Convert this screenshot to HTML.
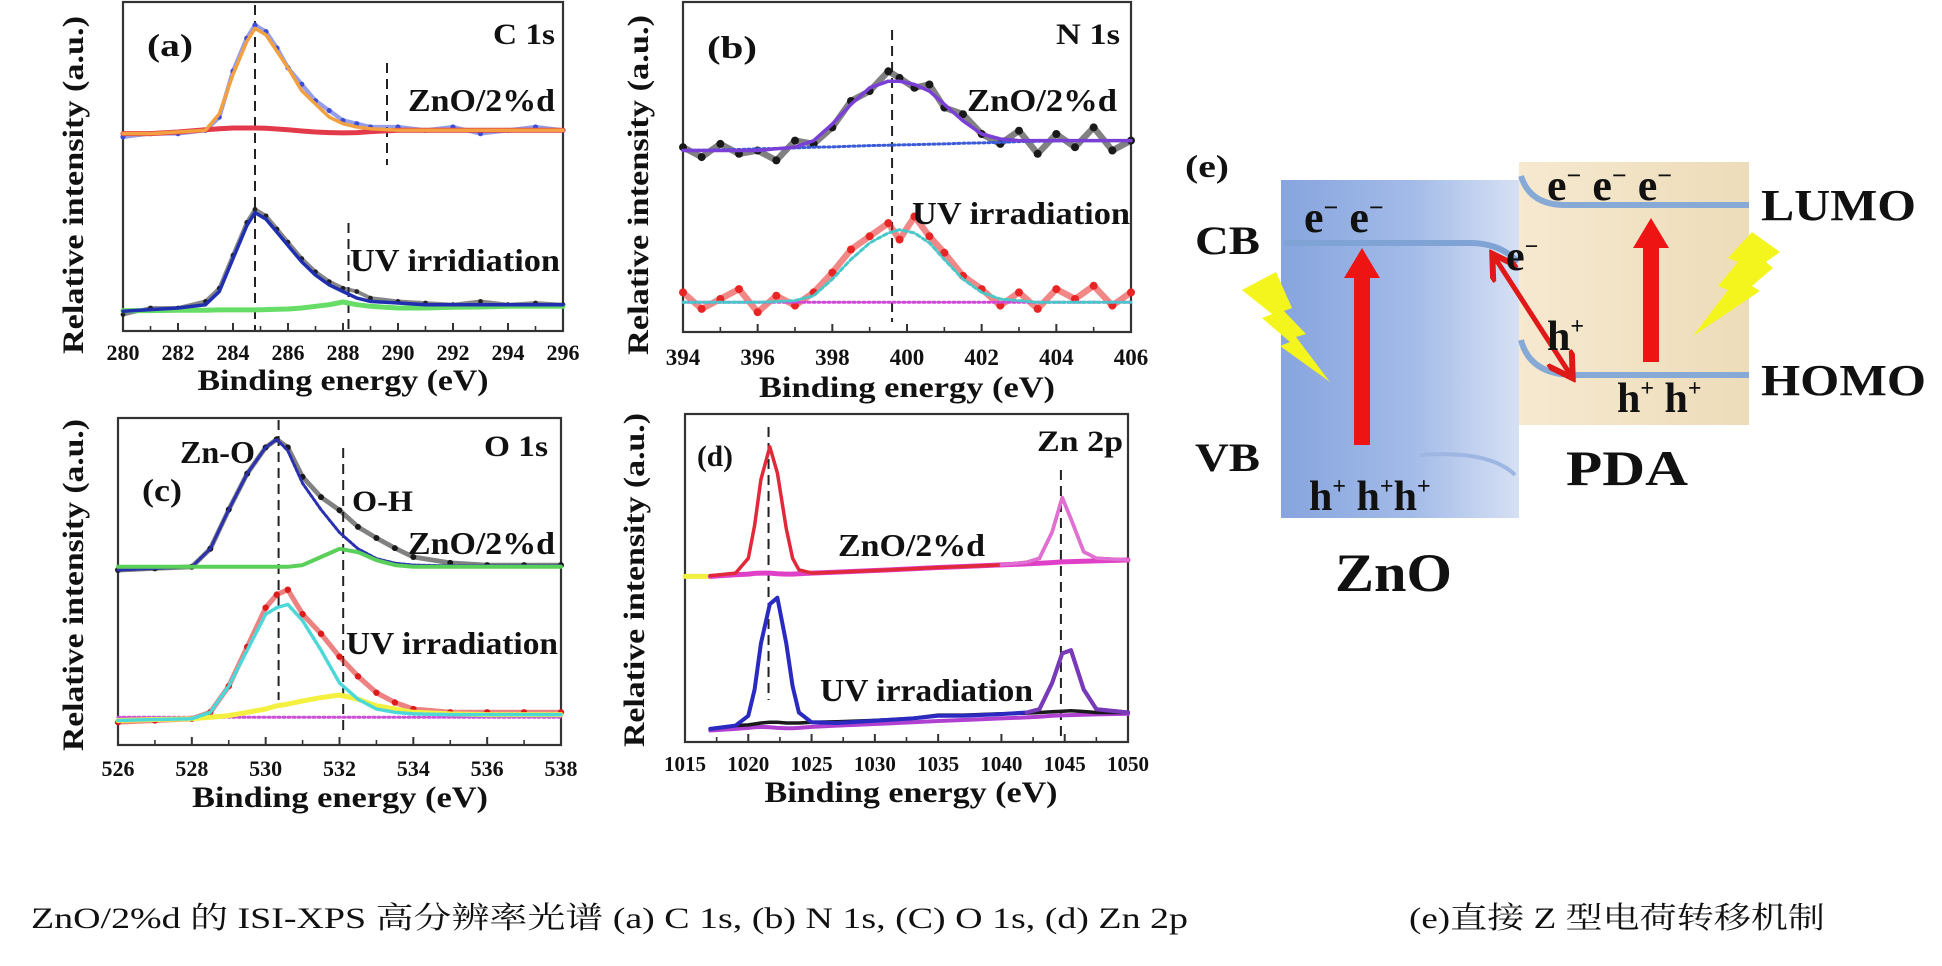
<!DOCTYPE html>
<html><head><meta charset="utf-8"><title>XPS spectra and Z-scheme</title>
<style>
html,body{margin:0;padding:0;background:#fff;}
svg, svg text{font-family:"Liberation Serif","Times New Roman","Noto Serif CJK SC",serif !important;}
</style></head>
<body>
<svg id="fig" width="1942" height="961" viewBox="0 0 1942 961" xmlns="http://www.w3.org/2000/svg" font-family="Liberation Serif, Times New Roman, Noto Serif CJK SC, serif">
<defs>
<linearGradient id="znoGrad" x1="0" x2="1" y1="0" y2="0">
<stop offset="0" stop-color="#86a4de"/><stop offset="0.55" stop-color="#a3bbe8"/><stop offset="1" stop-color="#d6e0f4"/>
</linearGradient>
<linearGradient id="pdaGrad" x1="0" x2="1" y1="0" y2="0">
<stop offset="0" stop-color="#f6e9d0"/><stop offset="1" stop-color="#eddcb9"/>
</linearGradient>
<marker id="redHead" markerWidth="6" markerHeight="6" refX="4" refY="3" orient="auto-start-reverse" markerUnits="strokeWidth"><path d="M0,0 L5,3 L0,6" fill="none" stroke="#e01818" stroke-width="1.2"/></marker>
</defs>
<g id="charts"></g>

<g font-weight="bold" fill="#111">
<rect x="1281" y="180" width="238" height="338" fill="url(#znoGrad)"/>
<rect x="1519" y="162" width="230" height="263" fill="url(#pdaGrad)"/>
<path d="M1284,243 L1470,243 Q1500,243 1518,262" fill="none" stroke="#7ea3d4" stroke-width="6"/>
<path d="M1420,455 Q1490,450 1515,475" fill="none" stroke="#9db6e2" stroke-width="4"/>
<path d="M1521,176 Q1530,205 1565,205 L1749,205" fill="none" stroke="#86a9d6" stroke-width="6"/>
<path d="M1521,340 Q1530,375 1575,375 L1749,375" fill="none" stroke="#86a9d6" stroke-width="6"/>
<polygon points="1242,290 1276,272 1292,308 1284,311 1306,334 1296,337 1330,382 1280,346 1290,342 1262,318 1272,314" fill="#f5f51e"/>
<polygon points="1752,232 1780,252 1766,262 1773,268 1752,286 1760,291 1693,336 1728,290 1718,286 1738,262 1728,258" fill="#f5f51e"/>
<polygon points="1354,445 1370,445 1370,278 1380,278 1362,248 1344,278 1354,278" fill="#ee1414"/>
<polygon points="1643,362 1659,362 1659,248 1669,248 1651,218 1633,248 1643,248" fill="#ee1414"/>
<line x1="1495" y1="258" x2="1570" y2="374" stroke="#e01818" stroke-width="5" marker-start="url(#redHead)" marker-end="url(#redHead)"/>
<text x="1185" y="177" font-size="32" textLength="44" lengthAdjust="spacingAndGlyphs">(e)</text>
<text x="1195" y="254" font-size="40" textLength="65" lengthAdjust="spacingAndGlyphs">CB</text>
<text x="1195" y="471" font-size="40" textLength="65" lengthAdjust="spacingAndGlyphs">VB</text>
<text x="1761" y="220" font-size="44" textLength="155" lengthAdjust="spacingAndGlyphs">LUMO</text>
<text x="1761" y="395" font-size="44" textLength="165" lengthAdjust="spacingAndGlyphs">HOMO</text>
<text x="1335" y="591" font-size="54" textLength="117" lengthAdjust="spacingAndGlyphs">ZnO</text>
<text x="1566" y="485" font-size="50" textLength="122" lengthAdjust="spacingAndGlyphs">PDA</text>
<text x="1304" y="232" font-size="44">e<tspan font-size="26" dy="-16">−</tspan><tspan dy="16"> e</tspan><tspan font-size="26" dy="-16">−</tspan></text>
<text x="1547" y="200" font-size="44">e<tspan font-size="26" dy="-16">−</tspan><tspan dy="16"> e</tspan><tspan font-size="26" dy="-16">−</tspan><tspan dy="16"> e</tspan><tspan font-size="26" dy="-16">−</tspan></text>
<text x="1506" y="270" font-size="42">e<tspan font-size="24" dy="-16">−</tspan></text>
<text x="1547" y="350" font-size="42">h<tspan font-size="24" dy="-16">+</tspan></text>
<text x="1617" y="412" font-size="42">h<tspan font-size="24" dy="-16">+</tspan><tspan dy="16"> h</tspan><tspan font-size="24" dy="-16">+</tspan></text>
<text x="1309" y="510" font-size="42">h<tspan font-size="24" dy="-16">+</tspan><tspan dy="16"> h</tspan><tspan font-size="24" dy="-16">+</tspan><tspan dy="16">h</tspan><tspan font-size="24" dy="-16">+</tspan></text>
</g>

<text x="31" y="928" font-size="30" textLength="1157" lengthAdjust="spacingAndGlyphs" fill="#111">ZnO/2%d 的 ISI-XPS 高分辨率光谱  (a) C 1s, (b) N 1s, (C) O 1s, (d) Zn 2p</text>
<text x="1409" y="928" font-size="30" textLength="416" lengthAdjust="spacingAndGlyphs" fill="#111">(e)直接 Z 型电荷转移机制</text>
</svg>

<script>
const xTicksA = [280,282,284,286,288,290,292,294,296];
const xTicksB = [394,396,398,400,402,404,406];
const xTicksC = [526,528,530,532,534,536,538];
const xTicksD = [1015,1020,1025,1030,1035,1040,1045,1050];

const energyA = [280,281,282,283,283.5,284,284.5,284.8,285.2,285.6,286,286.5,287,287.5,288,288.5,289,290,291,292,293,294,295,296];
const fitA1   = [.60,.60,.605,.61,.66,.78,.88,.92,.90,.85,.80,.73,.69,.65,.63,.62,.615,.61,.61,.61,.61,.61,.61,.61];
const dataA1  = [.59,.60,.60,.61,.65,.79,.89,.93,.91,.86,.80,.75,.70,.67,.64,.63,.62,.62,.61,.62,.60,.61,.62,.61];
const compA1  = [.60,.60,.605,.612,.615,.617,.617,.617,.616,.614,.612,.608,.605,.603,.602,.603,.606,.61,.61,.61,.61,.61,.61,.61];
const fitA2   = [.06,.065,.07,.08,.12,.22,.32,.36,.34,.30,.26,.21,.17,.14,.12,.10,.09,.085,.08,.08,.08,.08,.08,.08];
const dataA2  = [.05,.07,.07,.09,.13,.23,.33,.37,.35,.31,.27,.22,.18,.15,.13,.12,.10,.09,.085,.08,.09,.08,.085,.08];
const compA2  = [.062,.062,.063,.063,.064,.064,.064,.064,.065,.066,.067,.07,.075,.08,.088,.08,.075,.07,.07,.072,.073,.075,.075,.075];
const peaksA  = [284.8, 289.6, 288.2];

const energyB = [394,394.5,395,395.5,396,396.5,397,397.5,398,398.5,399,399.5,399.8,400.2,400.6,401,401.5,402,402.5,403,403.5,404,404.5,405,405.5,406];
const fitB1   = [.55,.55,.55,.55,.55,.555,.56,.58,.63,.69,.74,.76,.76,.75,.73,.69,.64,.60,.585,.58,.58,.58,.58,.58,.58,.58];
const baseB1  = [.55,.551,.552,.553,.555,.556,.558,.56,.561,.563,.565,.566,.567,.568,.569,.57,.572,.573,.575,.577,.578,.579,.58,.58,.58,.58];
const dataB1  = [.56,.53,.57,.54,.55,.52,.58,.57,.62,.70,.73,.79,.77,.74,.75,.68,.66,.60,.57,.61,.54,.60,.56,.62,.55,.58];
const fitB2   = [.09,.09,.09,.09,.09,.092,.095,.11,.16,.22,.27,.30,.31,.30,.27,.22,.16,.12,.10,.095,.09,.09,.09,.09,.09,.09];
const baseB2  = [.09,.09,.09,.09,.09,.09,.09,.09,.09,.09,.09,.09,.09,.09,.09,.09,.09,.09,.09,.09,.09,.09,.09,.09,.09,.09];
const dataB2  = [.12,.07,.10,.13,.06,.11,.08,.12,.18,.25,.29,.33,.28,.35,.29,.24,.17,.13,.08,.12,.07,.13,.10,.14,.08,.12];
const peaksB  = [399.6];

const energyC = [526,527,528,528.5,529,529.5,530,530.3,530.6,531,531.5,532,532.5,533,533.5,534,535,536,537,538];
const dataC1  = [.535,.54,.545,.60,.72,.83,.91,.935,.91,.82,.758,.718,.667,.633,.602,.575,.557,.55,.55,.55];
const znoC1   = [.535,.54,.545,.60,.72,.83,.91,.935,.90,.80,.72,.65,.60,.57,.556,.55,.548,.548,.548,.548];
const ohC1    = [.545,.545,.545,.545,.545,.545,.545,.545,.545,.55,.575,.60,.59,.565,.55,.545,.545,.545,.545,.545];
const dataC2  = [.07,.075,.08,.10,.18,.30,.42,.46,.475,.40,.34,.27,.21,.16,.13,.11,.10,.10,.10,.10];
const znoC2   = [.075,.078,.08,.10,.18,.29,.40,.42,.43,.38,.29,.19,.14,.11,.10,.095,.093,.093,.093,.093];
const ohC2    = [.075,.078,.08,.085,.09,.10,.11,.12,.125,.135,.145,.153,.14,.12,.11,.10,.095,.093,.093,.093];
const baseC2  = [.085,.085,.085,.085,.085,.085,.085,.085,.085,.085,.085,.085,.085,.085,.085,.085,.085,.085,.085,.085];
const peaksC  = [530.35, 532.1];

const energyD = [1017,1019,1020,1020.5,1021,1021.7,1022.3,1023,1023.5,1024,1025,1027,1030,1033,1035,1037,1040,1042,1043,1044,1044.8,1045.5,1046.5,1047.5,1050];
const dataD1  = [.507,.515,.56,.66,.80,.90,.82,.65,.56,.525,.515,.518,.523,.528,.532,.535,.54,.548,.56,.64,.745,.68,.58,.56,.555];
const baseD1  = [.505,.51,.512,.514,.515,.515,.513,.512,.512,.513,.515,.518,.523,.528,.532,.535,.54,.543,.545,.547,.549,.55,.551,.552,.555];
const dataD2  = [.04,.05,.08,.16,.30,.42,.44,.30,.17,.09,.06,.058,.065,.072,.08,.08,.085,.09,.10,.18,.27,.28,.16,.10,.09];
const bumpD2  = [.04,.05,.052,.055,.058,.06,.06,.058,.058,.058,.06,.062,.066,.072,.082,.082,.086,.088,.09,.092,.094,.095,.093,.09,.09];
const baseD2  = [.035,.04,.043,.045,.046,.045,.043,.042,.042,.043,.046,.05,.055,.06,.064,.067,.072,.075,.077,.08,.081,.082,.083,.084,.086];
const peaksD  = [1021.6, 1044.7];

const NS = 'http://www.w3.org/2000/svg';
const root = document.getElementById('charts');

function mk(tag, attrs, parent) {
  const el = document.createElementNS(NS, tag);
  for (const k in attrs) el.setAttribute(k, attrs[k]);
  parent.appendChild(el);
  return el;
}
function xScale(p, v) { return p.x0 + (v - p.d0) / (p.d1 - p.d0) * (p.x1 - p.x0); }
function yScale(p, v) { return p.y1 - v * (p.y1 - p.y0); }

function line(p, xs, ys, color, w, dash, name) {
  const pts = xs.map((x, i) => xScale(p, x).toFixed(1) + ',' + yScale(p, ys[i]).toFixed(1)).join(' ');
  const el = mk('polyline', {points: pts, fill: 'none', stroke: color, 'stroke-width': w, 'stroke-linejoin': 'round', 'stroke-linecap': 'round'}, p.g);
  if (dash) el.setAttribute('stroke-dasharray', dash);
  
  
  return el;
}
function dots(p, xs, ys, color, r, name) {
  const g = mk('g', {fill: color}, p.g);
  
  
  line(p, xs, ys, color, r * 1.6, null, name + '-trace').setAttribute('opacity', '0.55');
  xs.forEach((x, i) => {
    const c = mk('circle', {cx: xScale(p, x), cy: yScale(p, ys[i]), r: r}, g);
    
    
  });
}
function vdash(p, x, ya, yb, name) {
  const el = mk('line', {x1: xScale(p, x), x2: xScale(p, x), y1: ya, y2: yb, stroke: '#222', 'stroke-width': 2, 'stroke-dasharray': '10,6'}, p.g);
  
  
}
function txt(p, s, x, y, size, len, name, anchor) {
  const t = mk('text', {x: x, y: y, 'font-size': size, 'font-weight': 'bold', fill: '#111'}, p.g);
  if (len) { t.setAttribute('textLength', len); t.setAttribute('lengthAdjust', 'spacingAndGlyphs'); }
  if (anchor) t.setAttribute('text-anchor', anchor);
  t.textContent = s;
  
  
  return t;
}

function panel(cfg) {
  const p = Object.assign({}, cfg);
  p.g = mk('g', {}, root);
  
  
  const fr = mk('rect', {x: p.x0, y: p.y0, width: p.x1 - p.x0, height: p.y1 - p.y0, fill: 'none', stroke: '#333', 'stroke-width': 2.2}, p.g);
  
  
  const ticks = cfg.ticks;
  ticks.forEach((t, i) => {
    const x = xScale(p, t);
    const tk = mk('line', {x1: x, x2: x, y1: p.y1, y2: p.y1 - 8, stroke: '#333', 'stroke-width': 2}, p.g);
    
    
    if (i < ticks.length - 1) {
      const xm = xScale(p, (t + ticks[i + 1]) / 2);
      const mt = mk('line', {x1: xm, x2: xm, y1: p.y1, y2: p.y1 - 5, stroke: '#333', 'stroke-width': 1.6}, p.g);
      
      
    }
    txt(p, String(t), x, cfg.tickY, cfg.tickSize, null, 'x-tick-label', 'middle');
  });
  txt(p, 'Binding energy (eV)', cfg.xlabX, cfg.xlabY, 30, cfg.xlabLen, 'x-axis-title', 'middle');
  const yl = txt(p, 'Relative intensity (a.u.)', 0, 0, 30, cfg.ylabLen, 'y-axis-title', 'middle');
  yl.setAttribute('transform', 'translate(' + (cfg.ylabX + 10) + ',' + cfg.ylabY + ') rotate(-90)');
  return p;
}

const pa = panel({name: 'panel-a-c1s', x0: 123, x1: 563, y0: 2, y1: 331, d0: 280, d1: 296, ticks: xTicksA, tickY: 360, tickSize: 22, xlabX: 343, xlabY: 390, xlabLen: 291, ylabX: 73, ylabY: 185, ylabLen: 338});
vdash(pa, peaksA[0], 5, 330, 'peak-line-284');
vdash(pa, peaksA[1], 63, 165, 'peak-line-289');
vdash(pa, peaksA[2], 223, 330, 'peak-line-288');
dots(pa, energyA, dataA1, '#3c4fd8', 2.6, 'series-a-zno-data');
line(pa, energyA, compA1, '#e23a4a', 5, null, 'series-a-zno-component');
line(pa, energyA, fitA1, '#f2a040', 3.5, null, 'series-a-zno-fit');
dots(pa, energyA, dataA2, '#222', 2.4, 'series-a-uv-data');
line(pa, energyA, compA2, '#66dd66', 5, null, 'series-a-uv-component');
line(pa, energyA, fitA2, '#1f2fb0', 3.5, null, 'series-a-uv-fit');
txt(pa, '(a)', 147, 56, 32, 46, 'panel-a-label');
txt(pa, 'C 1s', 555, 44, 30, 62, 'panel-a-title', 'end');
txt(pa, 'ZnO/2%d', 408, 111, 32, 147, 'label-a-zno');
txt(pa, 'UV irridiation', 350, 271, 32, 210, 'label-a-uv');

const pb = panel({name: 'panel-b-n1s', x0: 683, x1: 1131, y0: 2, y1: 332, d0: 394, d1: 406, ticks: xTicksB, tickY: 365, tickSize: 23, xlabX: 907, xlabY: 397, xlabLen: 296, ylabX: 638, ylabY: 185, ylabLen: 340});
vdash(pb, peaksB[0], 30, 322, 'peak-line-399');
dots(pb, energyB, dataB1, '#1a1a1a', 4, 'series-b-zno-data');
line(pb, energyB, baseB1, '#3b5bd8', 3, '2,3', 'series-b-zno-baseline');
line(pb, energyB, fitB1, '#7a3fd6', 3.5, null, 'series-b-zno-fit');
dots(pb, energyB, dataB2, '#e82424', 4, 'series-b-uv-data');
line(pb, energyB, baseB2, '#d048d8', 3, '2,3', 'series-b-uv-baseline');
line(pb, energyB, fitB2, '#48c8c8', 3, '4,3', 'series-b-uv-fit');
txt(pb, '(b)', 707, 58, 32, 50, 'panel-b-label');
txt(pb, 'N 1s', 1120, 44, 30, 64, 'panel-b-title', 'end');
txt(pb, 'ZnO/2%d', 967, 111, 32, 150, 'label-b-zno');
txt(pb, 'UV irradiation', 912, 224, 32, 218, 'label-b-uv');

const pc = panel({name: 'panel-c-o1s', x0: 118, x1: 561, y0: 418, y1: 745, d0: 526, d1: 538, ticks: xTicksC, tickY: 776, tickSize: 22, xlabX: 340, xlabY: 807, xlabLen: 296, ylabX: 73, ylabY: 585, ylabLen: 332});
vdash(pc, peaksC[0], 420, 700, 'peak-line-530');
vdash(pc, peaksC[1], 448, 732, 'peak-line-532');
dots(pc, energyC, dataC1, '#1a1a1a', 3, 'series-c-zno-data');
line(pc, energyC, znoC1, '#2a30b0', 3, '3,2', 'series-c-zno-component');
line(pc, energyC, ohC1, '#5ad05a', 4, null, 'series-c-oh-component');
dots(pc, energyC, dataC2, '#dd1c1c', 3.2, 'series-c-uv-data');
line(pc, energyC, baseC2, '#cc50d8', 3, '2,3', 'series-c-uv-baseline');
line(pc, energyC, ohC2, '#f4f040', 5, null, 'series-c-uv-oh');
line(pc, energyC, znoC2, '#4cd8d8', 3.5, '4,2', 'series-c-uv-zno');
txt(pc, 'Zn-O', 180, 463, 32, 75, 'label-c-zno-bond');
txt(pc, '(c)', 142, 501, 32, 40, 'panel-c-label');
txt(pc, 'O 1s', 548, 456, 30, 64, 'panel-c-title', 'end');
txt(pc, 'O-H', 352, 511, 30, 61, 'label-c-oh');
txt(pc, 'ZnO/2%d', 408, 554, 32, 147, 'label-c-zno');
txt(pc, 'UV irradiation', 346, 654, 32, 212, 'label-c-uv');

const pd = panel({name: 'panel-d-zn2p', x0: 685, x1: 1128, y0: 414, y1: 742, d0: 1015, d1: 1050, ticks: xTicksD, tickY: 771, tickSize: 21, xlabX: 911, xlabY: 802, xlabLen: 293, ylabX: 634, ylabY: 580, ylabLen: 334});
vdash(pd, peaksD[0], 427, 700, 'peak-line-1021');
vdash(pd, peaksD[1], 470, 742, 'peak-line-1045');
line(pd, [1015, 1017], [baseD1[0], baseD1[0]], '#f0f040', 5, null, 'series-d-zno-yellow');
line(pd, energyD, baseD1, '#e040c8', 5, null, 'series-d-zno-baseline');
line(pd, energyD, dataD1, '#e02a3a', 3.5, null, 'series-d-zno-fit');
line(pd, energyD.slice(16), dataD1.slice(16), '#e070d8', 3.5, '2,2', 'series-d-zno-2p1');
line(pd, energyD, baseD2, '#b040d0', 4, null, 'series-d-uv-baseline');
line(pd, energyD, bumpD2, '#1a1a1a', 3.5, null, 'series-d-uv-data');
line(pd, energyD, dataD2, '#2a2ac0', 4, null, 'series-d-uv-fit');
line(pd, energyD.slice(17), dataD2.slice(17), '#7a3ab8', 4, null, 'series-d-uv-2p1');
txt(pd, '(d)', 697, 466, 30, 36, 'panel-d-label');
txt(pd, 'Zn 2p', 1123, 451, 30, 86, 'panel-d-title', 'end');
txt(pd, 'ZnO/2%d', 838, 556, 32, 147, 'label-d-zno');
txt(pd, 'UV irradiation', 820, 701, 32, 213, 'label-d-uv');
</script>
</body></html>
